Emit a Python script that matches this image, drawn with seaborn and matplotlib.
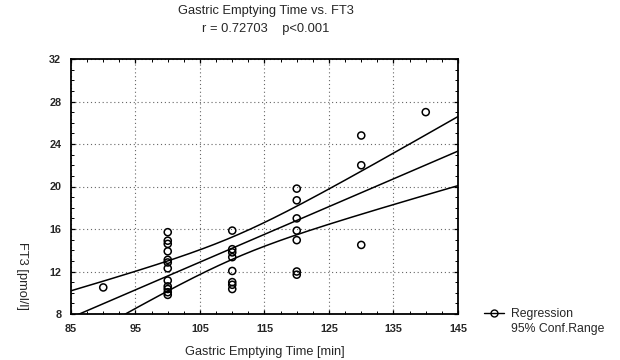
import numpy as np
import pandas as pd
import matplotlib
matplotlib.use("Agg")
import matplotlib.pyplot as plt
import seaborn as sns
from matplotlib.lines import Line2D
from matplotlib.ticker import MultipleLocator

# ---- data ----
gastric_time = [90] + [100] * 12 + [110] * 8 + [120] * 7 + [130] * 3 + [140]
ft3 = [10.5,
       15.7, 14.9, 14.6, 13.9, 13.1, 12.85, 12.3, 11.15, 10.6, 10.35, 10.05, 9.8,
       15.85, 14.1, 13.8, 13.35, 12.05, 11.0, 10.75, 10.35,
       19.8, 18.7, 17.0, 15.85, 14.95, 12.0, 11.7,
       24.8, 22.0, 14.5,
       27.0]
x_ticks = [85, 95, 105, 115, 125, 135, 145]
y_ticks = [8, 12, 16, 20, 24, 28, 32]
title_lines = ["Gastric Emptying Time vs. FT3", "r = 0.72703    p<0.001"]
x_label = "Gastric Emptying Time [min]"
y_label = "FT3 [pmol/l]"
legend_labels = ["Regression", "95% Conf.Range"]

sns.set_theme(style="white")
plt.rcParams["font.family"] = ["Liberation Sans", "DejaVu Sans"]

fig = plt.figure(figsize=(6.2, 3.6), dpi=100)
ax = fig.add_axes([71 / 620, 1 - 314 / 360, (458 - 71) / 620, (314 - 59) / 360])

df = pd.DataFrame({"time": gastric_time, "ft3": ft3})

# regression + 95% confidence range for the mean
x = np.asarray(gastric_time, float)
y = np.asarray(ft3, float)
n = len(x)
slope, intercept = np.polyfit(x, y, 1)
resid = y - (slope * x + intercept)
s = np.sqrt(np.sum(resid ** 2) / (n - 2))
sxx = np.sum((x - x.mean()) ** 2)
t_val = 2.042
xs = np.linspace(x_ticks[0], x_ticks[-1], 200)
fit = slope * xs + intercept
half = t_val * s * np.sqrt(1 / n + (xs - x.mean()) ** 2 / sxx)
lines = pd.DataFrame({"x": xs, "fit": fit, "upper": fit + half, "lower": fit - half})

for col in ["fit", "upper", "lower"]:
    sns.lineplot(data=lines, x="x", y=col, ax=ax, color="black", linewidth=1.1, zorder=2)

sns.scatterplot(data=df, x="time", y="ft3", ax=ax, marker="o", s=26,
                fc="none", ec="black", linewidth=1.1, zorder=3)

ax.set_xlim(x_ticks[0], x_ticks[-1])
ax.set_ylim(y_ticks[0], y_ticks[-1])
ax.set_xticks(x_ticks)
ax.set_yticks(y_ticks)
ax.xaxis.set_minor_locator(MultipleLocator(2.5))
ax.yaxis.set_minor_locator(MultipleLocator(1))
ax.grid(True, which="major", linestyle=(0, (1, 2.5)), color="0.4", linewidth=0.8)
for sp in ax.spines.values():
    sp.set_visible(True)
    sp.set_color("black")
    sp.set_linewidth(1.3)
ax.tick_params(which="both", direction="in", top=True, right=True, bottom=True, left=True,
               color="black")
ax.tick_params(which="major", length=3, width=0.9, labelsize=7.8, pad=7)
ax.tick_params(which="minor", length=2, width=0.7)
for lab in ax.get_xticklabels() + ax.get_yticklabels():
    lab.set_fontweight("bold")
ax.set_xlabel("")
ax.set_ylabel("")

fig.text(266 / 620, 1 - 11 / 360, title_lines[0], ha="center", va="center", fontsize=9.3)
fig.text(266 / 620, 1 - 29 / 360, title_lines[1], ha="center", va="center", fontsize=9.3)
fig.text(265 / 620, 1 - 352 / 360, x_label, ha="center", va="center", fontsize=9.2)
fig.text(22 / 620, 1 - 276 / 360, y_label, ha="center", va="center", rotation=-90, fontsize=9.3)

handles = [Line2D([0], [0], color="black", lw=1.0, marker="o", mfc="none", mec="black", ms=5),
           Line2D([0], [0], linestyle="none")]
fig.legend(handles=handles, labels=legend_labels, loc="upper left",
           bbox_to_anchor=(478 / 620, 1 - 302 / 360), frameon=False, fontsize=8.8,
           handlelength=1.6, handletextpad=0.6, labelspacing=0.2, borderpad=0)

fig.savefig("out.png", dpi=100)
